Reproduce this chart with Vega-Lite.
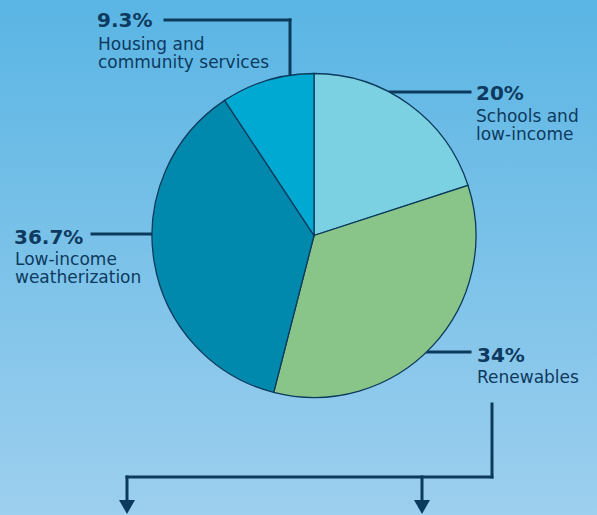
{
  "$schema": "https://vega.github.io/schema/vega-lite/v6.json",
  "width": 597,
  "height": 515,
  "autosize": {"type": "fit", "contains": "padding"},
  "padding": 0,
  "background": "#7cc2ea",
  "config": {"view": {"stroke": null}, "axis": {"disable": true}},
  "datasets": {
    "slices": [
      {"category": "Schools and low-income", "value": 20, "idx": 1},
      {"category": "Renewables", "value": 34, "idx": 2},
      {"category": "Low-income weatherization", "value": 36.7, "idx": 3},
      {"category": "Housing and community services", "value": 9.3, "idx": 4}
    ],
    "segments": [
      {"x1": 165, "y1": 20, "x2": 290, "y2": 20},
      {"x1": 290, "y1": 20, "x2": 290, "y2": 76},
      {"x1": 390, "y1": 92, "x2": 470, "y2": 92},
      {"x1": 92, "y1": 234, "x2": 153, "y2": 234},
      {"x1": 427, "y1": 352, "x2": 470, "y2": 352},
      {"x1": 492, "y1": 404, "x2": 492, "y2": 477},
      {"x1": 127, "y1": 477, "x2": 492, "y2": 477},
      {"x1": 127, "y1": 477, "x2": 127, "y2": 500},
      {"x1": 422, "y1": 477, "x2": 422, "y2": 500}
    ],
    "arrows": [
      {"x": 127, "y": 507},
      {"x": 422, "y": 507}
    ],
    "nums": [
      {"t": "9.3%", "x": 97, "y": 27},
      {"t": "20%", "x": 476, "y": 100},
      {"t": "36.7%", "x": 14, "y": 244},
      {"t": "34%", "x": 477, "y": 362}
    ],
    "descs": [
      {"t": "Housing and", "x": 98, "y": 50},
      {"t": "community services", "x": 98, "y": 68},
      {"t": "Schools and", "x": 476, "y": 122},
      {"t": "low-income", "x": 476, "y": 140},
      {"t": "Low-income", "x": 15, "y": 265},
      {"t": "weatherization", "x": 15, "y": 283},
      {"t": "Renewables", "x": 477, "y": 383}
    ],
    "bg": [{"x0": 0, "x1": 597, "y0": 0, "y1": 515}]
  },
  "layer": [
    {
      "data": {"name": "bg"},
      "mark": {
        "type": "rect",
        "color": {
          "gradient": "linear", "x1": 0, "y1": 0, "x2": 0, "y2": 1,
          "stops": [
            {"offset": 0, "color": "#5ab5e4"},
            {"offset": 1, "color": "#9dcfee"}
          ]
        }
      },
      "encoding": {
        "x": {"field": "x0", "type": "quantitative", "scale": {"domain": [0, 597], "nice": false, "zero": false}, "axis": null},
        "x2": {"field": "x1"},
        "y": {"field": "y0", "type": "quantitative", "scale": {"domain": [0, 515], "nice": false, "zero": false, "reverse": true}, "axis": null},
        "y2": {"field": "y1"}
      }
    },
    {
      "data": {"name": "segments"},
      "mark": {"type": "rule", "color": "#0c3a5c", "strokeWidth": 3, "strokeCap": "square"},
      "encoding": {
        "x": {"field": "x1", "type": "quantitative"},
        "x2": {"field": "x2"},
        "y": {"field": "y1", "type": "quantitative"},
        "y2": {"field": "y2"}
      }
    },
    {
      "data": {"name": "arrows"},
      "mark": {"type": "point", "shape": "triangle-down", "size": 256, "filled": true, "color": "#0c3a5c", "opacity": 1},
      "encoding": {
        "x": {"field": "x", "type": "quantitative"},
        "y": {"field": "y", "type": "quantitative"}
      }
    },
    {
      "data": {"name": "slices"},
      "mark": {"type": "arc", "outerRadius": 162, "stroke": "#0c3a5c", "strokeWidth": 1.3},
      "encoding": {
        "theta": {"field": "value", "type": "quantitative", "stack": true},
        "order": {"field": "idx", "type": "quantitative"},
        "color": {
          "field": "category", "type": "nominal", "legend": null,
          "scale": {
            "domain": ["Schools and low-income", "Renewables", "Low-income weatherization", "Housing and community services"],
            "range": ["#7bd0e2", "#89c588", "#0088ad", "#00a9d1"]
          }
        },
        "x": {"datum": 314, "type": "quantitative"},
        "y": {"datum": 235.5, "type": "quantitative"}
      }
    },
    {
      "data": {"name": "nums"},
      "mark": {"type": "text", "align": "left", "baseline": "alphabetic", "font": "DejaVu Sans", "fontSize": 20, "fontWeight": "bold", "color": "#0d3a5e"},
      "encoding": {
        "x": {"field": "x", "type": "quantitative"},
        "y": {"field": "y", "type": "quantitative"},
        "text": {"field": "t"}
      }
    },
    {
      "data": {"name": "descs"},
      "mark": {"type": "text", "align": "left", "baseline": "alphabetic", "font": "DejaVu Sans", "fontSize": 17, "color": "#0d3a5e"},
      "encoding": {
        "x": {"field": "x", "type": "quantitative"},
        "y": {"field": "y", "type": "quantitative"},
        "text": {"field": "t"}
      }
    }
  ]
}
